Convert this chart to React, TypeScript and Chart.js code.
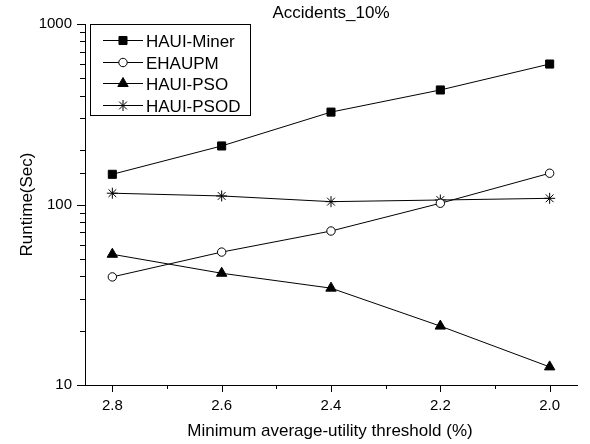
import React, { useEffect, useRef } from "react";
import { Chart, registerables } from "chart.js";
import { drawPoint } from "chart.js/helpers";

Chart.register(...registerables);

const categories = [2.8, 2.6, 2.4, 2.2, 2.0];
const minorXTicks = [2.7, 2.5, 2.3, 2.1];
const hauiMiner = [147, 211, 325, 431, 600];
const ehaupm = [39.7, 54.5, 71.3, 101.6, 149];
const hauiPso = [53, 41.6, 34.4, 21.2, 12.6];
const hauiPsod = [115.5, 111.5, 103.7, 105.9, 108.2];
const yTickLabels = [10, 100, 1000];
const seriesNames = ["HAUI-Miner", "EHAUPM", "HAUI-PSO", "HAUI-PSOD"];
const chartTitle = "Accidents_10%";
const xTitle = "Minimum average-utility threshold (%)";
const yTitle = "Runtime(Sec)";

const FONT = '"Liberation Sans", Arial, Helvetica, sans-serif';

const styles = [
  { pointStyle: "rect", radius: 5.7, bg: "#000", border: "#000", bw: 1 },
  { pointStyle: "circle", radius: 4.2, bg: "#fff", border: "#000", bw: 1 },
  { pointStyle: "triangle", radius: 6, bg: "#000", border: "#000", bw: 1 },
  { pointStyle: "star", radius: 5.5, bg: "#000", border: "#000", bw: 1 },
];

const seriesValues = [hauiMiner, ehaupm, hauiPso, hauiPsod];

const decoPlugin = {
  id: "deco",
  afterDraw(chart: any) {
    const ctx = chart.ctx as CanvasRenderingContext2D;
    const { left, right, top, bottom } = chart.chartArea;
    const xs = chart.scales.x;
    const ys = chart.scales.y;
    ctx.save();
    ctx.strokeStyle = "#000";
    ctx.lineWidth = 1;
    // y tick marks
    for (const t of ys.ticks) {
      const py = Math.round(ys.getPixelForValue(t.value)) + 0.5;
      const major = yTickLabels.includes(t.value);
      const len = major ? 8 : 5;
      ctx.beginPath();
      ctx.moveTo(left - len, py);
      ctx.lineTo(left, py);
      ctx.stroke();
    }
    // x tick marks
    const xt = [
      ...categories.map((v) => ({ v, len: 7 })),
      ...minorXTicks.map((v) => ({ v, len: 4 })),
    ];
    for (const t of xt) {
      const px = Math.round(xs.getPixelForValue(t.v)) + 0.5;
      ctx.beginPath();
      ctx.moveTo(px, bottom);
      ctx.lineTo(px, bottom + t.len);
      ctx.stroke();
    }
    // titles
    ctx.fillStyle = "#000";
    ctx.font = `17px ${FONT}`;
    ctx.textAlign = "center";
    ctx.textBaseline = "alphabetic";
    ctx.fillText(chartTitle, (left + right) / 2, 18);
    ctx.fillText(xTitle, (left + right) / 2 - 1, 436);
    ctx.save();
    ctx.translate(31.5, (top + bottom) / 2);
    ctx.rotate(-Math.PI / 2);
    ctx.fillText(yTitle, 0, 0);
    ctx.restore();
    // legend
    const bx = 90.5, by = 24.5, bw = 160, bh = 91;
    ctx.fillStyle = "#fff";
    ctx.fillRect(bx, by, bw, bh);
    ctx.strokeStyle = "#000";
    ctx.lineWidth = 1;
    ctx.strokeRect(bx, by, bw, bh);
    const rows = [40, 61.7, 83.3, 105];
    chart.data.datasets.forEach((ds: any, i: number) => {
      const y = Math.round(rows[i]) + 0.5;
      ctx.strokeStyle = "#000";
      ctx.lineWidth = 1;
      ctx.beginPath();
      ctx.moveTo(103, y);
      ctx.lineTo(143, y);
      ctx.stroke();
      ctx.fillStyle = ds.pointBackgroundColor;
      ctx.strokeStyle = ds.pointBorderColor;
      ctx.lineWidth = ds.pointBorderWidth;
      drawPoint(ctx, { pointStyle: ds.pointStyle, radius: ds.pointRadius, borderWidth: ds.pointBorderWidth, rotation: 0 } as any, 123, y);
      ctx.fillStyle = "#000";
      ctx.font = `17px ${FONT}`;
      ctx.textAlign = "left";
      ctx.textBaseline = "alphabetic";
      ctx.fillText(ds.label, 146, y + 6);
    });
    ctx.restore();
  },
};

export default function App() {
  const ref = useRef<HTMLCanvasElement | null>(null);
  useEffect(() => {
    document.body.style.margin = "0";
    const canvas = ref.current!;
    const chart = new Chart(canvas, {
      type: "line",
      data: {
        datasets: seriesValues.map((vals, i) => ({
          label: seriesNames[i],
          data: categories.map((c, j) => ({ x: c, y: vals[j] })),
          borderColor: "#000",
          borderWidth: 1,
          backgroundColor: styles[i].bg,
          pointStyle: styles[i].pointStyle as any,
          pointRadius: styles[i].radius,
          pointBackgroundColor: styles[i].bg,
          pointBorderColor: styles[i].border,
          pointBorderWidth: styles[i].bw,
          fill: false,
          tension: 0,
        })),
      },
      options: {
        animation: false,
        responsive: false,
        devicePixelRatio: 1,
        layout: { padding: { left: 0, right: 13, top: 24, bottom: 0 } },
        plugins: { legend: { display: false }, title: { display: false }, tooltip: { enabled: false } },
        scales: {
          x: {
            type: "linear",
            reverse: true,
            min: 1.95,
            max: 2.85,
            border: { display: true, color: "#000", width: 1 },
            grid: { display: false, drawTicks: true, tickLength: 7 },
            ticks: {
              stepSize: 0.2,
              includeBounds: false,
              autoSkip: false,
              maxRotation: 0,
              padding: 5,
              color: "#000",
              font: { family: FONT, size: 15 },
              callback: (v: any) => Number(v).toFixed(1),
            },
            afterFit: (s: any) => { s.height = 59; },
          },
          y: {
            type: "logarithmic",
            min: 10,
            max: 1000,
            border: { display: true, color: "#000", width: 1 },
            grid: { display: false, drawTicks: true, tickLength: 8 },
            ticks: {
              autoSkip: false,
              padding: 5,
              color: "#000",
              font: { family: FONT, size: 15 },
              callback: (v: any) => (yTickLabels.includes(Number(v)) ? String(v) : ""),
            },
            afterFit: (s: any) => { s.width = 85; },
          },
        },
      },
      plugins: [decoPlugin],
    });
    return () => chart.destroy();
  }, []);
  return (
    <div style={{ width: 590, height: 444 }}>
      <canvas ref={ref} width={590} height={444} style={{ width: 590, height: 444, display: "block" }} />
    </div>
  );
}
